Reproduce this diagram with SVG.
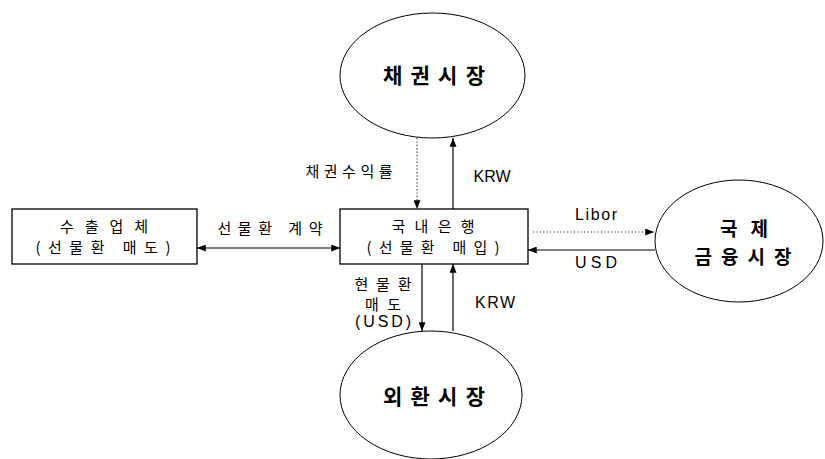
<svg xmlns="http://www.w3.org/2000/svg" width="825" height="459" viewBox="0 0 825 459">
<defs>
<marker id="ah" viewBox="0 0 10 8" refX="10" refY="4" markerWidth="9" markerHeight="7" markerUnits="userSpaceOnUse" orient="auto-start-reverse">
<path d="M0,0 L10,4 L0,8 Z" fill="#000"/>
</marker>
</defs>
<style>
.box{fill:#fff;stroke:#000;stroke-width:1.3}
.ell{fill:#fff;stroke:#000;stroke-width:1}
.kr{font-family:"Noto Sans CJK KR","Noto Sans",sans-serif;font-size:15px;fill:#000;text-anchor:middle}
.krb{font-family:"Noto Sans CJK KR","Noto Sans",sans-serif;font-size:21px;font-weight:bold;fill:#000;text-anchor:middle}
.krs{font-family:"Noto Sans CJK KR","Noto Sans",sans-serif;font-size:19px;font-weight:bold;fill:#000;text-anchor:middle}
.en{font-family:"Liberation Sans",Arial,sans-serif;font-size:16px;fill:#000;text-anchor:middle}
.ln{stroke:#000;stroke-width:1.2;fill:none}
.dot{stroke:#333;stroke-width:1.2;stroke-dasharray:1.2 2.2;fill:none}
</style>
<rect width="825" height="459" fill="#fff"/>
<g id="connectors">
<line class="ln" x1="197" y1="248" x2="340" y2="248" marker-start="url(#ah)" marker-end="url(#ah)"/>
<line class="dot" x1="417" y1="138" x2="417" y2="209" marker-end="url(#ah)"/>
<line class="ln" x1="453" y1="209" x2="453" y2="138" marker-end="url(#ah)"/>
<line class="dot" x1="533" y1="232" x2="654" y2="232" marker-end="url(#ah)"/>
<line class="ln" x1="655" y1="250" x2="528" y2="250" marker-end="url(#ah)"/>
<line class="ln" x1="422" y1="264" x2="422" y2="331" marker-end="url(#ah)"/>
<line class="ln" x1="453" y1="331" x2="453" y2="264" marker-end="url(#ah)"/>
<text class="kr" x="349" y="177" textLength="87" lengthAdjust="spacing">채권수익률</text>
<text class="kr" x="270" y="234" textLength="105" lengthAdjust="spacing">선물환 계약</text>
<text class="en" x="492" y="182" textLength="37" lengthAdjust="spacing">KRW</text>
<text class="en" x="596" y="220" textLength="42" lengthAdjust="spacing">Libor</text>
<text class="en" x="596" y="268" textLength="42" lengthAdjust="spacing">USD</text>
<text class="kr" x="383" y="290" textLength="57" lengthAdjust="spacing">현물환</text>
<text class="kr" x="383" y="310" textLength="36" lengthAdjust="spacing">매도</text>
<text class="en" x="383" y="327" textLength="56" lengthAdjust="spacing">(USD)</text>
<text class="en" x="495" y="308" textLength="40" lengthAdjust="spacing">KRW</text>
</g>
<g id="exporter">
<rect class="box" x="12" y="209" width="185" height="55"/>
<text class="kr" x="104" y="232" textLength="88" lengthAdjust="spacing">수출업체</text>
<text class="kr" x="103" y="253" textLength="135" lengthAdjust="spacing">(선물환 매도)</text>
</g>
<g id="bank">
<rect class="box" x="340" y="209" width="188" height="55"/>
<text class="kr" x="433" y="232" textLength="83" lengthAdjust="spacing">국내은행</text>
<text class="kr" x="433" y="253" textLength="133" lengthAdjust="spacing">(선물환 매입)</text>
</g>
<g id="bond-market">
<ellipse class="ell" cx="432.5" cy="75.5" rx="92.5" ry="62.5"/>
<text class="krb" x="434" y="83" textLength="102" lengthAdjust="spacing">채권시장</text>
</g>
<g id="intl-market">
<ellipse class="ell" cx="739" cy="241" rx="84" ry="61"/>
<text class="krs" x="744" y="236" textLength="48" lengthAdjust="spacing">국제</text>
<text class="krs" x="743" y="264" textLength="97" lengthAdjust="spacing">금융시장</text>
</g>
<g id="fx-market">
<ellipse class="ell" cx="431" cy="395" rx="91" ry="64"/>
<text class="krb" x="434" y="404" textLength="102" lengthAdjust="spacing">외환시장</text>
</g>
</svg>
